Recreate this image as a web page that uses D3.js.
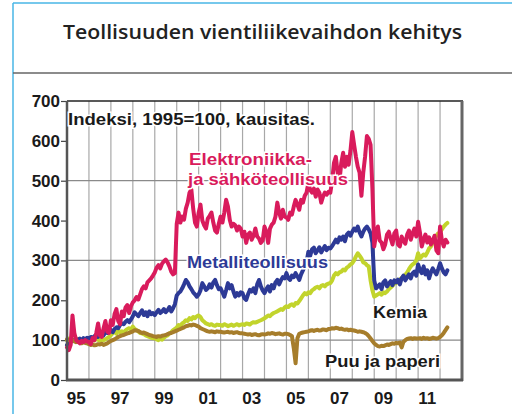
<!DOCTYPE html>
<html>
<head>
<meta charset="utf-8">
<script src="https://d3js.org/d3.v7.min.js"></script>
<style>
    body { margin: 0; background: #fff; }
    svg { display: block; }
    .lbl { font-family: "Liberation Sans", Arial, sans-serif; font-weight: bold; }
</style>
</head>
<body>
<div id="chart"></div>
<script>
// Monthly index values, 1995=100, starting January 1995
const startYear = 1995;

const electronics = [
    82, 75, 88, 162, 118, 100, 96, 92, 98, 95, 100, 97,
    95, 90, 105, 100, 118, 142, 112, 108, 130, 148, 122, 118,
    150, 138, 165, 178, 148, 140, 172, 160, 182, 188, 168, 185,
    195, 200, 208, 202, 215, 228, 235, 230, 245, 250, 255, 262,
    270, 282, 288, 280, 292, 298, 302, 295, 285, 272, 265, 268,
    392, 420, 395, 410, 402, 430, 445, 470, 478, 430, 395, 385,
    420, 440, 400, 388, 380, 405, 412, 420, 395, 375, 370, 392,
    410, 395, 420, 452, 435, 402, 385, 392, 388, 375, 385, 380,
    360, 372, 344, 365, 370, 352, 362, 380, 360, 355, 344, 350,
    385, 372, 344, 380, 390, 395, 410, 445, 420, 405, 427, 410,
    408, 402, 420, 415, 435, 452, 440, 427, 452, 445, 462, 470,
    495, 477, 470, 480, 460, 478, 470, 445, 460, 470, 465, 472,
    470, 500, 545, 560, 520, 500, 545, 570, 535, 560, 540, 575,
    622, 590, 560, 535, 520, 462, 520, 560, 612, 605, 590, 480,
    335, 365, 385, 350, 345, 328, 340, 365, 372, 355, 340, 368,
    375, 340, 335, 360, 350, 342, 365, 375, 352, 368, 380, 360,
    397, 370, 335, 352, 365, 345, 358, 340, 350, 362, 325, 318,
    385, 350, 335, 352, 345
];

const metal = [
    88, 92, 95, 100, 98, 102, 100, 104, 98, 105, 102, 106,
    104, 108, 106, 110, 112, 108, 115, 118, 112, 120, 118, 122,
    125, 120, 128, 132, 130, 138, 142, 140, 146, 150, 145, 152,
    160, 170, 165, 160, 168, 175, 163, 170, 160, 172, 165, 168,
    163, 170, 176, 168, 172, 178, 170, 175, 183, 172, 180, 190,
    212, 218, 222, 230, 240, 251, 245, 235, 228, 220, 215, 209,
    215, 225, 243, 235, 226, 230, 240, 232, 245, 251, 238, 228,
    230, 220, 209, 225, 243, 230, 238, 222, 209, 218, 212, 220,
    218, 205, 201, 215, 226, 222, 230, 218, 240, 251, 235, 225,
    218, 228, 235, 222, 238, 230, 245, 251, 240, 250, 258, 255,
    268, 255, 251, 262, 258, 268, 260, 251, 265, 275, 285, 296,
    322, 312, 328, 332, 318, 325, 333, 320, 328, 336, 326, 332,
    330, 336, 344, 352, 345, 358, 352, 360, 348, 365, 370, 362,
    372, 380, 375, 385, 370, 360, 372, 380, 385, 378, 368, 345,
    250, 230, 235, 240, 228, 245, 250, 235, 242, 248, 238, 250,
    245, 252, 240, 255, 262, 250, 258, 265, 255, 268, 272, 262,
    290, 275, 268, 285, 265, 275, 255, 270, 280, 272, 265, 278,
    293, 280, 270, 265, 275
];

const chemistry = [
    100, 104, 98, 102, 100, 97, 103, 100, 98, 101, 99, 102,
    100, 98, 102, 99, 103, 101, 98, 104, 100, 102, 105, 108,
    112, 118, 121, 116, 125, 120, 122, 118, 124, 128, 130, 126,
    134, 128, 125, 122, 118, 117, 115, 112, 110, 108, 106, 105,
    105, 102, 100, 103, 101, 106, 110, 112, 117, 120, 125, 128,
    132, 138, 135, 142, 145, 150, 148, 155, 152, 158, 155, 160,
    162, 158, 150, 146, 142, 140, 138, 140, 137, 136, 139, 138,
    138, 136, 140, 138, 135, 137, 139, 136, 138, 140, 137, 139,
    140, 138, 142, 141, 139, 143, 145, 144, 146, 148, 150, 152,
    155, 158, 162, 160, 165, 168, 170, 172, 175, 178, 176, 182,
    185, 183, 188, 190, 186, 193, 192, 198, 205, 212, 218, 215,
    220, 218, 225, 228, 232, 234, 230, 236, 238, 235, 240, 242,
    243, 250, 262, 268, 265, 270, 272, 277, 275, 282, 285, 290,
    293, 300, 310, 318, 312, 305, 295, 293, 288, 285, 250, 225,
    209, 212, 215, 218, 214, 220, 218, 222, 228, 232, 236, 243,
    243, 248, 252, 256, 260, 264, 270, 278, 285, 290, 293, 300,
    318, 305, 310, 315, 312, 320, 330, 335, 345, 355, 362, 368,
    370, 378, 385, 390, 394
];

const woodPaper = [
    102, 100, 98, 100, 97, 95, 96, 94, 92, 95, 93, 92,
    90, 88, 89, 87, 88, 90, 89, 91, 88, 90, 92, 95,
    98, 100, 102, 105, 108, 110, 112, 113, 115, 117, 118, 120,
    122, 125, 124, 123, 120, 118, 119, 117, 115, 113, 112, 110,
    109, 108, 110, 109, 111, 112, 113, 115, 117, 118, 120, 122,
    124, 126, 128, 130, 132, 135, 136, 138, 137, 139, 138, 136,
    134, 130, 128, 126, 124, 122, 121, 122, 121, 120, 122, 121,
    121, 120, 119, 120, 121, 119, 120, 118, 119, 120, 118, 117,
    117, 116, 115, 114, 115, 113, 114, 115, 113, 112, 114, 115,
    114, 115, 117, 116, 118, 117, 115, 116, 117, 115, 114, 116,
    116, 115, 113, 110, 80, 42, 105, 116, 118, 119, 120, 121,
    122, 124, 125, 123, 125, 126, 124, 125, 127, 126, 125, 128,
    128, 130, 129, 131, 130, 128, 129, 127, 126, 127, 125, 126,
    125, 124, 123, 121, 122, 121, 120, 118, 115, 110, 104, 98,
    92, 88, 85, 84, 86, 85, 87, 89, 88, 90, 92, 91,
    93, 92, 94, 82, 96, 100, 103, 104, 105, 103, 105, 104,
    104, 105, 103, 106, 104, 105, 103, 104, 106, 105, 104, 105,
    108, 112, 118, 125, 132
];

const yTicks = [0, 100, 200, 300, 400, 500, 600, 700];
const yGrid = [100, 300, 500];
const gridYears = d3.range(1996, 2013);
const xLabelYears = [1995, 1997, 1999, 2001, 2003, 2005, 2007, 2009, 2011];
const xLabels = ["95", "97", "99", "01", "03", "05", "07", "09", "11"];

const W = 512, H = 414;
const plot = { left: 67, right: 462, top: 101, bottom: 380 };

const svg = d3.select("#chart")
    .append("svg")
    .attr("width", W)
    .attr("height", H);

// page frame
svg.append("line").attr("x1", 13).attr("x2", 13).attr("y1", 3).attr("y2", H)
    .attr("stroke", "#49b6e6").attr("stroke-width", 1.5);
svg.append("line").attr("x1", 13).attr("x2", W).attr("y1", 3).attr("y2", 3)
    .attr("stroke", "#49b6e6").attr("stroke-width", 1.5);
svg.append("line").attr("x1", 13).attr("x2", W).attr("y1", 73).attr("y2", 73)
    .attr("stroke", "#666").attr("stroke-width", 1.5);

svg.append("text")
    .attr("x", 63).attr("y", 39)
    .attr("textLength", 399)
    .attr("lengthAdjust", "spacingAndGlyphs")
    .style("font-family", "'Open Sans', sans-serif")
    .style("font-weight", 600)
    .style("font-size", "20px")
    .attr("fill", "#222")
    .text("Teollisuuden vientiliikevaihdon kehitys");

// scales
const x = d3.scaleLinear().domain([1995, 2013]).range([plot.left, plot.right]);
const y = d3.scaleLinear().domain([0, 700]).range([plot.bottom, plot.top]);

// grid
svg.append("g").selectAll("line")
    .data(gridYears)
    .enter().append("line")
    .attr("x1", d => x(d)).attr("x2", d => x(d))
    .attr("y1", plot.top).attr("y2", plot.bottom)
    .attr("stroke", "#a8a8a8").attr("stroke-width", 1.2);

svg.append("g").selectAll("line")
    .data(yGrid)
    .enter().append("line")
    .attr("x1", plot.left).attr("x2", plot.right)
    .attr("y1", d => y(d)).attr("y2", d => y(d))
    .attr("stroke", "#8a8a8a").attr("stroke-width", 1.2);

// y axis
const yAxis = svg.append("g")
    .attr("transform", `translate(${plot.left},0)`)
    .call(d3.axisLeft(y).tickValues(yTicks).tickSize(6).tickPadding(1));
yAxis.select(".domain").remove();
yAxis.selectAll("line").attr("stroke", "#444").attr("stroke-width", 1.2);
yAxis.selectAll("text")
    .attr("class", "lbl")
    .style("font-size", "17px")
    .attr("fill", "#1a1a1a");

// x labels (mid-year)
svg.append("g").selectAll("text")
    .data(xLabelYears)
    .enter().append("text")
    .attr("class", "lbl")
    .attr("x", d => x(d + 0.42))
    .attr("y", 404)
    .attr("text-anchor", "middle")
    .style("font-size", "17px")
    .attr("fill", "#1a1a1a")
    .text((d, i) => xLabels[i]);

// series
const line = d3.line()
    .x((d, i) => x(startYear + i / 12))
    .y(d => y(d));

const series = [
    { values: chemistry, color: "#c2d42c" },
    { values: metal, color: "#2d3a96" },
    { values: woodPaper, color: "#a67d2b" },
    { values: electronics, color: "#d91b5c" }
];

svg.append("g").selectAll("path")
    .data(series)
    .enter().append("path")
    .attr("d", d => line(d.values))
    .attr("fill", "none")
    .attr("stroke", d => d.color)
    .attr("stroke-width", 4)
    .attr("stroke-linejoin", "round")
    .attr("stroke-linecap", "round");

// plot frame
svg.append("line").attr("x1", plot.left).attr("x2", plot.right + 1).attr("y1", plot.top).attr("y2", plot.top)
    .attr("stroke", "#222").attr("stroke-width", 1.5);
svg.append("line").attr("x1", plot.right).attr("x2", plot.right).attr("y1", plot.top).attr("y2", plot.bottom + 1)
    .attr("stroke", "#666").attr("stroke-width", 3);
svg.append("line").attr("x1", plot.left).attr("x2", plot.left).attr("y1", plot.top).attr("y2", plot.bottom + 1)
    .attr("stroke", "#555").attr("stroke-width", 2.5);
svg.append("line").attr("x1", plot.left - 1).attr("x2", plot.right + 1).attr("y1", plot.bottom).attr("y2", plot.bottom)
    .attr("stroke", "#555").attr("stroke-width", 3);

// annotations
const notes = [
    { text: "Indeksi, 1995=100, kausitas.", x: 68, y: 125, w: 247, color: "#1a1a1a" },
    { text: "Elektroniikka-", x: 189, y: 165, w: 123, color: "#d91b5c" },
    { text: "ja sähköteollisuus", x: 188, y: 185, w: 160, color: "#d91b5c" },
    { text: "Metalliteollisuus", x: 187, y: 268, w: 141, color: "#2d3a96" },
    { text: "Kemia", x: 373, y: 318, w: 54, color: "#1a1a1a" },
    { text: "Puu ja paperi", x: 325, y: 367, w: 115, color: "#1a1a1a" }
];

svg.append("g").selectAll("text")
    .data(notes)
    .enter().append("text")
    .attr("class", "lbl")
    .attr("x", d => d.x)
    .attr("y", d => d.y)
    .attr("textLength", d => d.w)
    .attr("lengthAdjust", "spacingAndGlyphs")
    .style("font-size", "17px")
    .attr("fill", d => d.color)
    .attr("stroke", "#fff")
    .attr("stroke-width", 3)
    .attr("paint-order", "stroke")
    .text(d => d.text);
</script>
</body>
</html>
